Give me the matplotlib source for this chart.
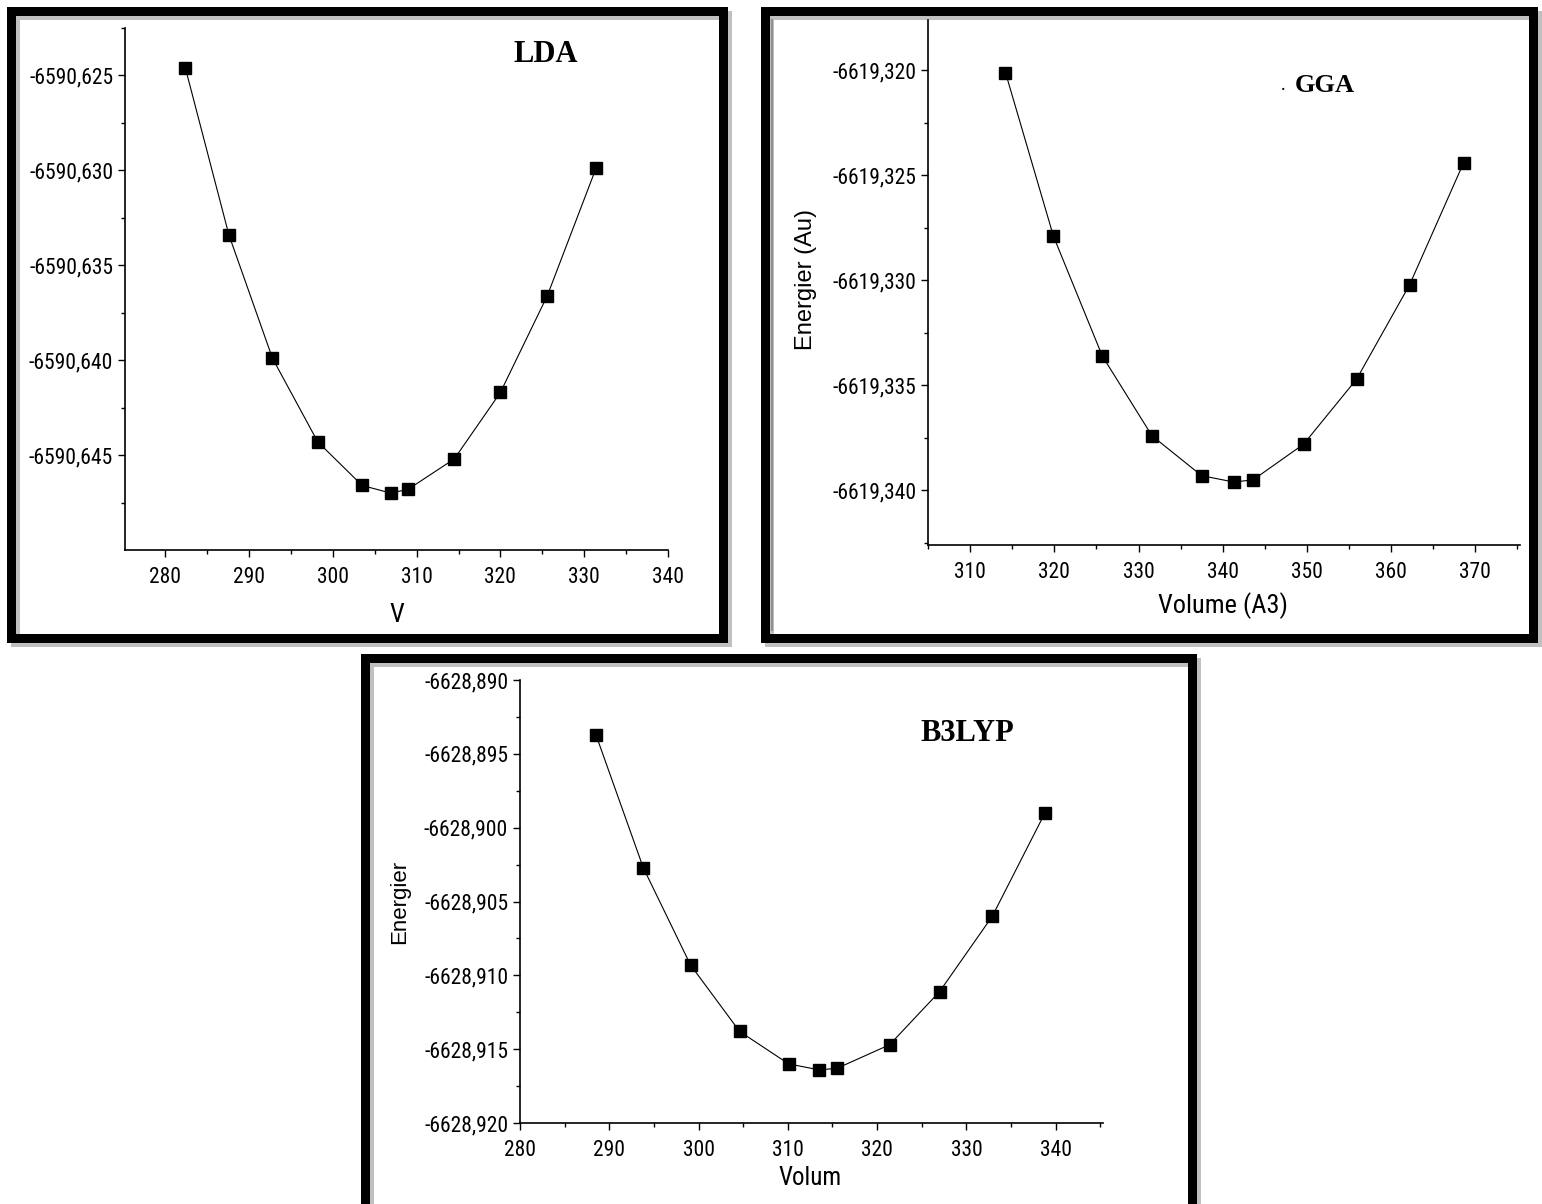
import matplotlib
matplotlib.use('Agg')
import matplotlib.pyplot as plt
from matplotlib import font_manager
from matplotlib.patches import Rectangle
from matplotlib.lines import Line2D
from matplotlib.ticker import MultipleLocator, FixedLocator, FuncFormatter

W, H = 1542, 1204

# LDA
lda_v = [282.4, 287.6, 292.8, 298.2, 303.5, 306.9, 309.0, 314.5, 320.0, 325.6, 331.4]
lda_e = [-6590.6246, -6590.6334, -6590.6399, -6590.6443, -6590.6466, -6590.6470,
         -6590.6468, -6590.6452, -6590.6417, -6590.6366, -6590.6299]

# GGA
gga_v = [314.2, 319.9, 325.7, 331.6, 337.5, 341.3, 343.6, 349.6, 355.9, 362.2, 368.6]
gga_e = [-6619.3201, -6619.3279, -6619.3336, -6619.3374, -6619.3393, -6619.3396,
         -6619.3395, -6619.3378, -6619.3347, -6619.3302, -6619.3244]

# B3LYP
b3_v = [288.5, 293.8, 299.1, 304.6, 310.1, 313.5, 315.5, 321.4, 327.0, 332.9, 338.8]
b3_e = [-6628.8937, -6628.9027, -6628.9093, -6628.9138, -6628.9160, -6628.9164,
        -6628.9163, -6628.9147, -6628.9111, -6628.9060, -6628.8990]

lda_yticks = [-6590.645, -6590.640, -6590.635, -6590.630, -6590.625]
gga_yticks = [-6619.340, -6619.335, -6619.330, -6619.325, -6619.320]
b3_yticks = [-6628.920, -6628.915, -6628.910, -6628.905, -6628.900, -6628.895, -6628.890]

# condensed sans like the Origin export, if one is around
installed = set(f.name for f in font_manager.fontManager.ttflist)
narrow_font = 'Liberation Sans'
for name in ['Liberation Sans Narrow', 'Arial Narrow', 'Roboto Condensed', 'PT Sans Narrow',
             'Archivo Narrow', 'Open Sans Condensed']:
    if name in installed:
        narrow_font = name
        break
narrow = [narrow_font, 'DejaVu Sans']
is_narrow = narrow_font != 'Liberation Sans'
tick_size = 15.5 if is_narrow else 13
serif = ['Liberation Serif', 'DejaVu Serif']


def px_box(x0, y0, x1, y1):
    # pixel box (top-left origin) -> figure fraction [left, bottom, width, height]
    return [x0 / W, 1 - y1 / H, (x1 - x0) / W, (y1 - y0) / H]


def frame(fig, x0, y0, x1, y1, lw=9):
    l, b, w, h = px_box(x0, y0, x1, y1)
    fig.add_artist(Rectangle((l + 4 / W, b - 4 / H), w, h, transform=fig.transFigure,
                             fill=False, edgecolor='#c0c0c0', linewidth=lw * 0.72, zorder=0))
    fig.add_artist(Rectangle((l, b), w, h, transform=fig.transFigure,
                             fill=False, edgecolor='black', linewidth=lw * 0.72, zorder=1))


def panel(fig, box, v, e, xlim, ylim, yticks):
    ax = fig.add_axes(px_box(*box))
    ax.plot(v, e, color='black', linewidth=0.8, marker='s', markersize=8,
            markerfacecolor='black', markeredgecolor='black')
    ax.set_xlim(*xlim)
    ax.set_ylim(*ylim)
    ax.spines['top'].set_visible(False)
    ax.spines['right'].set_visible(False)
    for s in ['left', 'bottom']:
        ax.spines[s].set_linewidth(1.2)
    ax.xaxis.set_major_locator(MultipleLocator(10))
    ax.xaxis.set_minor_locator(MultipleLocator(5))
    ax.yaxis.set_major_locator(FixedLocator(yticks))
    minor = [t + 0.0025 for t in yticks] + [yticks[0] - 0.0025]
    ax.yaxis.set_minor_locator(FixedLocator(minor))
    ax.yaxis.set_major_formatter(FuncFormatter(lambda y, p: ('%.3f' % y).replace('.', ',')))
    ax.tick_params(which='major', direction='out', length=5, width=1)
    ax.tick_params(which='minor', direction='out', length=3, width=1)
    ax.tick_params(axis='x', pad=7)
    for lab in ax.get_xticklabels() + ax.get_yticklabels():
        lab.set_family(narrow)
        lab.set_fontsize(tick_size)
    return ax


fig = plt.figure(figsize=(W / 100, H / 100), dpi=100)

frame(fig, 11, 11, 723, 638)
frame(fig, 765, 11, 1533, 638)
frame(fig, 365, 658, 1192, 1215)
fig.add_artist(Line2D([772 / W, 772 / W], [1 - 20 / H, 1 - 630 / H], transform=fig.transFigure,
                      color='#909090', linewidth=1.5))

ax1 = panel(fig, (125, 28, 668, 550), lda_v, lda_e, (275.2, 340), (-6590.650, -6590.6225),
            lda_yticks)
ax1.set_xlabel('V', family=narrow, fontsize=19 if is_narrow else 17)
ax1.xaxis.label.set_va('center')
ax1.xaxis.set_label_coords(0.501, -0.124)
ax1.text(0.774, 0.95, 'LDA', transform=ax1.transAxes, family=serif, fontweight='bold',
         fontsize=22, ha='center', va='center')

ax2 = panel(fig, (928, 20, 1520, 545), gga_v, gga_e, (305, 375.3), (-6619.3426, -6619.3176),
            gga_yticks)
ax2.set_xlabel('Volume (A3)', family=narrow, fontsize=19 if is_narrow else 17)
ax2.xaxis.label.set_va('center')
ax2.xaxis.set_label_coords(0.498, -0.116)
ax2.set_ylabel('Energier (Au)', family=['Liberation Sans', 'DejaVu Sans'], fontsize=17)
ax2.yaxis.label.set_va('center')
ax2.yaxis.set_label_coords(-0.206, 0.505)
ax2.text(0.6, 0.866, '·', transform=ax2.transAxes, family=serif, fontweight='bold',
         fontsize=10, ha='center', va='center')
ax2.text(0.62, 0.876, 'GGA', transform=ax2.transAxes, family=serif, fontweight='bold',
         fontsize=19, ha='left', va='center')

ax3 = panel(fig, (520, 680, 1103, 1123), b3_v, b3_e, (280, 345.3), (-6628.920, -6628.890),
            b3_yticks)
ax3.set_xlabel('Volum', family=narrow, fontsize=18 if is_narrow else 16)
ax3.xaxis.label.set_va('center')
ax3.xaxis.set_label_coords(0.497, -0.124)
ax3.set_ylabel('Energier', family=['Liberation Sans', 'DejaVu Sans'], fontsize=16)
ax3.yaxis.label.set_va('center')
ax3.yaxis.set_label_coords(-0.206, 0.499)
ax3.text(0.768, 0.88, 'B3LYP', transform=ax3.transAxes, family=serif, fontweight='bold',
         fontsize=22, ha='center', va='center')

fig.savefig('out.png', dpi=100)
